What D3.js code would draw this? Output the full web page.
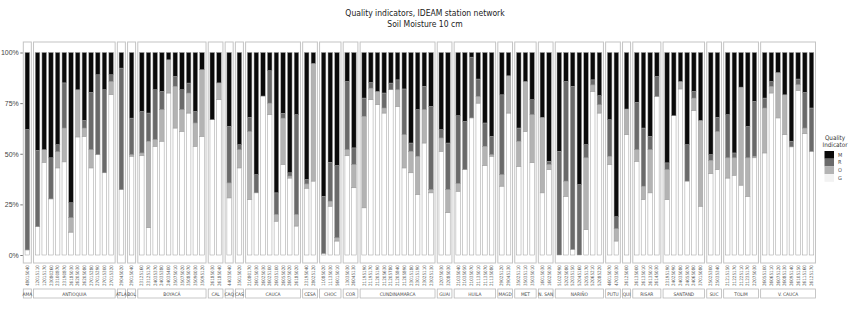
<!DOCTYPE html>
<html><head><meta charset="utf-8">
<script src="https://cdn.jsdelivr.net/npm/d3@7"></script>
<style>
body{margin:0;background:#fff;}
svg{display:block;font-family:"Liberation Sans Narrow","Arial Narrow","DejaVu Sans Condensed",sans-serif;}
</style></head><body>
<svg id="chart" width="850" height="313"></svg>
<script>
// ---- data ----
const departments = ["AMA","ANTIOQUIA","ATLA","BOL","BOYACÁ","CAL","CAQ","CAS","CAUCA","CESA","CHOC","COR","CUNDINAMARCA","GUAI","HUILA","MAGD","MET","N. SAN","NARIÑO","PUTU","QUI","RISAR","SANTAND","SUC","TOLIM","V. CAUCA"];
const stationsPerDept = [1,12,1,1,10,2,1,1,8,2,3,2,11,2,6,2,3,2,7,2,1,4,6,2,5,8];
const stations = [
 "48015040",
 "12015110","12015170","23080260","23100870","23190870","26185030","26205030","26205080","27015280","27015290","27015300","27015320",
 "29045020",
 "29015040",
 "23125160","23125170","24035370","24035380","24035400","35075010","35075020","35085070","35090030","35095120",
 "26185030","26185040",
 "44035040",
 "35015020",
 "21080170","26015030","26025030","26025100","26035100","26055020","26075020","26185020",
 "23195040","28025120",
 "11085020","11135030","56015010",
 "13035030","26045130",
 "21195190","21195170","21205190","21205630","21205780","21205840","21205890","23015180","23015190","23025110","23025130",
 "32075030","32085030",
 "21035040","21035050","21035070","21135010","21135070","21135080",
 "29025120","29045130",
 "35025110","35035110","35035010",
 "16015030","16025030",
 "51025090","52025080","52035150","52045160","52055170","52065210","52085220",
 "46015070","47035030",
 "26125000",
 "26135000","26135010","26135010","26145030",
 "23195190","24025090","24035080","24055070","24065080","37015080",
 "25025300","25035340",
 "21215150","21225170","21225110","21235170","22075030",
 "26055100","26065110","26075120","26085130","26095140","26105150","26115160","26125170"
];
// percent of records per quality indicator, per station (same order as stations)
const valG = [2.5, 14,45.8,27.7,43,46,11.3,58.3,58.6,43,49.6,40.6,79.2, 32.3, 48.8,
 49.1,13.5,53.7,56.2,80,62.7,61.1,70.1,53.7,58.6, 66.8,76.7, 28.2, 43,
 27.4,30.7,78.5,69.3,16.7,44.7,38,14.3, 33,36.5, 0.8,24.1,6.9, 49,33.2,
 23.3,76.7,74.2,70.1,81.6,73.4,43,40.6,29.9,55.3,30.7, 51.2,20.9,
 31.5,42.2,67.7,75,44.2,48.8, 34,70.1, 43.8,61,45.6, 30.7,42.2,
 0,29,2.8,0,12.6,80.8,70.1, 44.7,6.9, 59.4, 46.3,27.4,30.7,78.3,
 27.4,68.8,82,36.5,71.3,24.1, 40.2,42.2, 38,39.4,34.5,29,48,
 50.4,80,67.7,59.4,53.4,81.3,59.9,51.2];
const valO = [0, 0,6.2,0,8,16.7,7.1,23.3,4.1,9,0,0,6.5, 0, 0.8,
 1.3,42.7,3.3,15.6,16.4,20.6,10.7,9.9,11.5,32.9, 0,8.3, 7.4, 9,
 33.6,0,0,5.7,3.3,22.9,1,5.7, 2.1,58.1, 0,2.5,1.6, 3,11.5,
 45.2,5.7,6.6,2.5,0,8.2,16.4,10.6,18.9,16.5,1.6, 6.6,11.4,
 3.8,0,0,3.3,9.5,0.8, 5.7,18.4, 12.4,24.7,23.7, 37.3,2.5,
 0,7.5,0,0,35.4,3.2,4.1, 4.1,6.1, 12.7, 5.7,6.6,21.3,0,
 14.8,0,3.7,0,6.2,42.4, 6.6,18.8, 10,8.6,48.4,19,0.8,
 22.2,3.3,22.4,19.7,0,2.8,2.8,0];
const valR = [59.5, 37.7,0,20.3,3.5,22.3,7.4,0,3.8,28.3,39.4,41,3.3, 60, 18,
 20.5,13.9,24.6,9,0,4.9,9.8,4.9,5.7,0, 0,0, 27.9, 2.5,
 7,9,0,16,10.7,2.4,1.6,49.3, 2.2,0, 28.2,19.2,35.7, 33.7,8.2,
 9,2.8,0,7.4,3.3,4.9,22.6,4.1,23,11.5,41.1, 4.1,23,
 33.5,23.8,30,8.6,11.5,9, 39.4,0, 6.5,0,7.4, 0,1.6,
 51.2,49.2,80.5,34.8,6.5,2.5,4.5, 18,5.9, 0, 23.4,28.7,6.6,9.9,
 3.3,0,0,18,3.3,0, 2.8,7, 21.3,2.4,0,15.5,27.1,
 4.9,2.4,0,0,2.8,2.8,17.6,21.4];
const valM = [38, 48.3,48,52,45.5,15,74.2,18.4,33.5,19.7,11,18.4,11, 7.7, 32.4,
 29.1,29.9,18.4,19.2,3.6,11.8,18.4,15.1,29.1,8.5, 33.2,15, 36.5, 45.5,
 32,60.3,21.5,9,69.3,30,59.4,30.7, 62.7,5.4, 71,54.2,55.8, 14.3,47.1,
 22.5,14.8,19.2,20,15.1,13.5,18,44.7,28.2,16.7,26.6, 38.1,44.7,
 31.2,34,2.3,13.1,34.8,41.4, 20.9,11.5, 37.3,14.3,23.3, 32,53.7,
 48.8,14.3,16.7,65.2,45.5,13.5,21.3, 33.2,81.1, 27.9, 24.6,37.3,41.4,11.8,
 54.5,31.2,14.3,45.5,19.2,33.5, 50.4,32, 30.7,49.6,17.1,36.5,24.1,
 22.5,14.3,9.9,20.9,43.8,13.1,19.7,27.4];
const qualityKeys = ["G","O","R","M"];
const legendKeys = ["M","R","O","G"];
const yTicks = [0,0.25,0.5,0.75,1];
const titleLines = ["Quality indicators, IDEAM station network","Soil Moisture 10 cm"];
const legendTitle = ["Quality","Indicator"];

// ---- build ----
const svg = d3.select("#chart");
const colors = d3.scaleOrdinal().domain(["M","R","O","G"]).range(["#0a0a0a","#6a6a6a","#b3b3b3","#ffffff"]);
const vals = {G:valG,O:valO,R:valR,M:valM};
const rows = stations.map((s,i)=>{
  const tot = valG[i]+valO[i]+valR[i]+valM[i];
  const r = {station:s, idx:i};
  qualityKeys.forEach(k=>r[k]=vals[k][i]/tot);
  return r;
});
let k=0;
departments.forEach((d,j)=>{for(let n=0;n<stationsPerDept[j];n++){rows[k].dept=d;k++;}});
const series = d3.stack().keys(qualityKeys)(rows);

const plotL=23.3, plotR=815.5, gap=2.2, panelTop=42, panelBot=263;
const totalUnits = d3.sum(stationsPerDept, n=>n+0.2);
const unit = (plotR-plotL-gap*(departments.length-1))/totalUnits;
const y = d3.scaleLinear().domain([0,1]).range([255,52.5]);

// panel positions
let cx = plotL;
const panels = departments.map((d,j)=>{
  const w=(stationsPerDept[j]+0.2)*unit; const p={dept:d,x:cx,w:w};
  cx+=w+gap; return p;
});
const xScales = {};
panels.forEach(p=>{
  const st = rows.filter(r=>r.dept===p.dept).map(r=>r.idx);
  xScales[p.dept]=d3.scaleBand().domain(st).range([p.x,p.x+p.w]).paddingInner(0.32).paddingOuter(0.26);
});

// title
svg.append("g").selectAll("text").data(titleLines).join("text")
  .attr("x",425).attr("y",(d,i)=>15.5+i*11.5).attr("text-anchor","middle")
  .attr("font-size",8.5).attr("fill","#222").text(d=>d);

// panels
svg.append("g").selectAll("rect").data(panels).join("rect")
  .attr("x",d=>d.x).attr("y",panelTop).attr("width",d=>d.w).attr("height",panelBot-panelTop)
  .attr("fill","#fff").attr("stroke","#c4c4c4").attr("stroke-width",1);

// bars
const gBars = svg.append("g");
series.forEach(s=>{
  gBars.append("g").selectAll("rect").data(s).join("rect")
    .attr("x",d=>xScales[d.data.dept](d.data.idx))
    .attr("width",d=>xScales[d.data.dept].bandwidth())
    .attr("y",d=>y(d[1])).attr("height",d=>Math.max(0,y(d[0])-y(d[1])))
    .attr("fill",colors(s.key)).attr("stroke","#9c9c9c").attr("stroke-width",0.5);
});

// y axis
const yAxis = d3.axisLeft(y).tickValues(yTicks).tickFormat(d3.format(".0%")).tickSize(2.5).tickPadding(1.5);
const ga = svg.append("g").attr("transform",`translate(${plotL-0.5},0)`).call(yAxis);
ga.select(".domain").remove();
ga.selectAll("line").attr("stroke","#777");
ga.selectAll("text").attr("font-size",7).attr("fill","#444").attr("font-family","inherit");

// station labels
svg.append("g").selectAll("text").data(rows).join("text")
  .attr("transform",d=>{const xs=xScales[d.dept];return `translate(${xs(d.idx)+xs.bandwidth()/2+1.6},${panelBot+2}) rotate(-90)`;})
  .attr("text-anchor","end").attr("font-size",4.6).attr("fill","#555").text(d=>d.station);

// strips
const gs = svg.append("g");
gs.selectAll("rect").data(panels).join("rect")
  .attr("x",d=>d.x).attr("y",289).attr("width",d=>d.w).attr("height",9)
  .attr("fill","#fff").attr("stroke","#b8b8b8").attr("stroke-width",0.8);
gs.selectAll("text").data(panels).join("text")
  .attr("x",d=>d.x+d.w/2).attr("y",295.5).attr("text-anchor","middle")
  .attr("font-size",4.8).attr("fill","#444").text(d=>d.dept);

// legend
const gl = svg.append("g");
gl.selectAll("text.t").data(legendTitle).join("text").attr("class","t")
  .attr("x",835).attr("y",(d,i)=>140+i*6.5).attr("text-anchor","middle")
  .attr("font-size",6.3).attr("fill","#333").text(d=>d);
gl.selectAll("rect").data(legendKeys).join("rect")
  .attr("x",824.5).attr("y",(d,i)=>151+i*7.7).attr("width",9.5).attr("height",7.7)
  .attr("fill",d=>d==="G"?"#f2f2f2":colors(d));
gl.selectAll("text.k").data(legendKeys).join("text").attr("class","k")
  .attr("x",838).attr("y",(d,i)=>151+i*7.7+5.5)
  .attr("font-size",5.5).attr("fill","#444").text(d=>d);
</script>
</body></html>
